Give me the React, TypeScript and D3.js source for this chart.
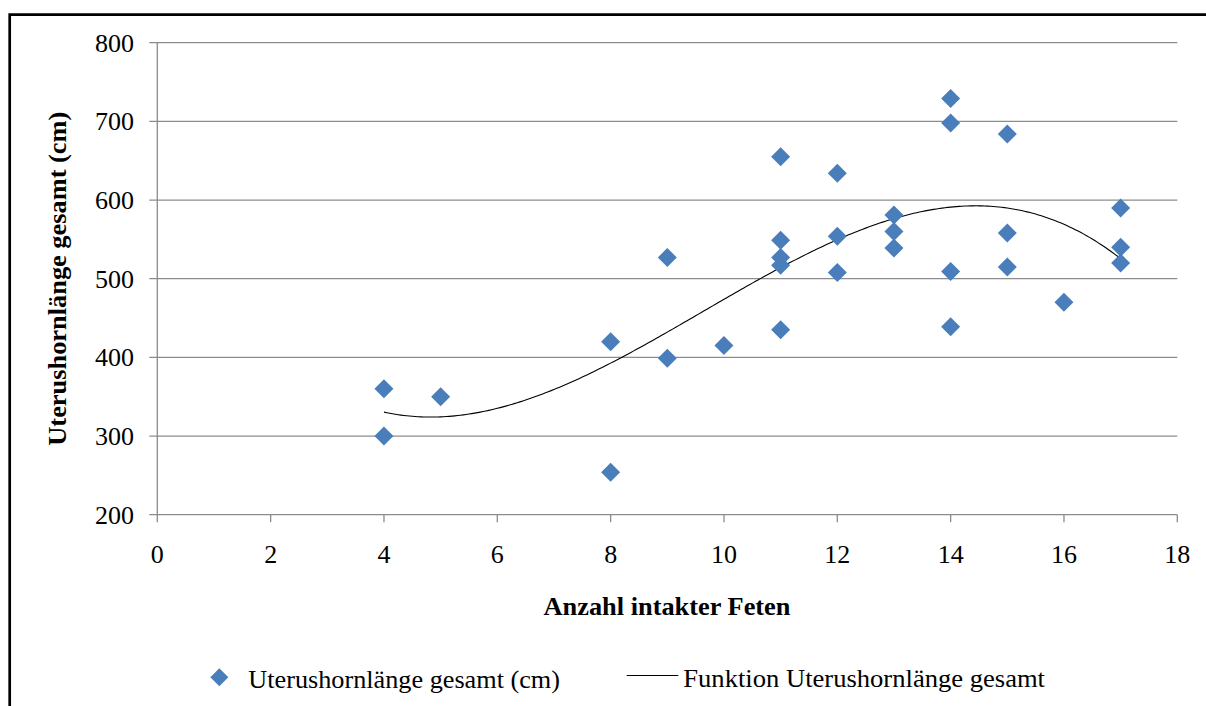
import React from "react";
import * as d3 from "d3";

// ---- data ----
const fetenCount = [4, 4, 5, 8, 8, 9, 9, 10, 11, 11, 11, 11, 11, 12, 12, 12, 13, 13, 13, 14, 14, 14, 14, 15, 15, 15, 16, 17, 17, 17];
const hornLength = [360, 300, 350, 420, 254, 527, 399, 415, 655, 549, 527, 517, 435, 634, 554, 508, 581, 560, 539, 729, 698, 509, 439, 684, 558, 515, 470, 590, 540, 520];
const xTicks = [0, 2, 4, 6, 8, 10, 12, 14, 16, 18];
const yTicks = [200, 300, 400, 500, 600, 700, 800];
const xTitle = "Anzahl intakter Feten";
const yTitle = "Uterushornlänge gesamt (cm)";
const legendScatter = "Uterushornlänge gesamt (cm)";
const legendTrend = "Funktion Uterushornlänge gesamt";

// cubic least-squares trend line (as Excel's polynomial trendline, order 3)
function polyFit(xs: number[], ys: number[], order: number, cx: number): number[] {
  const n = order + 1;
  const A: number[][] = Array.from({ length: n }, () => new Array(n + 1).fill(0));
  xs.forEach((xv, k) => {
    const t = xv - cx;
    for (let i = 0; i < n; i++) {
      for (let j = 0; j < n; j++) A[i][j] += Math.pow(t, i + j);
      A[i][n] += Math.pow(t, i) * ys[k];
    }
  });
  for (let i = 0; i < n; i++) {
    let p = i;
    for (let r = i + 1; r < n; r++) if (Math.abs(A[r][i]) > Math.abs(A[p][i])) p = r;
    [A[i], A[p]] = [A[p], A[i]];
    for (let r = 0; r < n; r++) {
      if (r === i) continue;
      const f = A[r][i] / A[i][i];
      for (let c = i; c <= n; c++) A[r][c] -= f * A[i][c];
    }
  }
  return A.map((row, i) => row[n] / row[i]);
}

const FONT = "'Liberation Serif', 'Times New Roman', serif";
const GRID = "#8c8c8c";
const BLUE = "#4A7EBB";

export default function App() {
  const x = d3.scaleLinear().domain([0, 18]).range([157.3, 1177.3]);
  const y = d3.scaleLinear().domain([200, 800]).range([514.7, 42.7]);

  const cx = 10;
  const coef = polyFit(fetenCount, hornLength, 3, cx);
  const f = (v: number) => coef.reduce((s, c, i) => s + c * Math.pow(v - cx, i), 0);
  const xMin = d3.min(fetenCount) as number;
  const xMax = d3.max(fetenCount) as number;
  const samples = d3.range(xMin, xMax + 0.0001, 0.05);
  const line = d3
    .line<number>()
    .x((d) => x(d))
    .y((d) => y(f(d)));

  const diamond = (cxp: number, cyp: number, r: number) =>
    `M${cxp},${cyp - r}L${cxp + r},${cyp}L${cxp},${cyp + r}L${cxp - r},${cyp}Z`;

  const yMid = (y(200) + y(800)) / 2;

  return (
    <svg
      width={1206}
      height={706}
      style={{ position: "absolute", left: 0, top: 0, display: "block", background: "#fff" }}
      fontFamily={FONT}
    >
      <rect x={0} y={0} width={1206} height={706} fill="#fff" />
      {/* outer chart border */}
      <path d="M9.7,720 L9.7,14.7 L1220,14.7" fill="none" stroke="#000" strokeWidth={2.7} />

      {/* gridlines + y ticks */}
      {yTicks.map((t) => (
        <line key={"g" + t} x1={149.3} x2={x(18)} y1={y(t)} y2={y(t)} stroke={GRID} strokeWidth={1.3} />
      ))}
      {/* y axis */}
      <line x1={x(0)} x2={x(0)} y1={y(800)} y2={y(200)} stroke={GRID} strokeWidth={1.3} />
      {/* x ticks */}
      {xTicks.map((t) => (
        <line key={"xt" + t} x1={x(t)} x2={x(t)} y1={y(200)} y2={y(200) + 7.5} stroke={GRID} strokeWidth={1.3} />
      ))}

      {/* y tick labels */}
      {yTicks.map((t) => (
        <text key={"yl" + t} x={134} y={y(t) + 9} textAnchor="end" fontSize={26} fill="#000">
          {t}
        </text>
      ))}
      {/* x tick labels */}
      {xTicks.map((t) => (
        <text key={"xl" + t} x={x(t)} y={563.3} textAnchor="middle" fontSize={26} fill="#000">
          {t}
        </text>
      ))}

      {/* axis titles */}
      <text x={667} y={615} textAnchor="middle" fontSize={26} fontWeight="bold" textLength={247} lengthAdjust="spacingAndGlyphs">
        {xTitle}
      </text>
      <text
        transform={`translate(66,${yMid}) rotate(-90)`}
        textAnchor="middle"
        fontSize={26}
        fontWeight="bold"
        textLength={334}
        lengthAdjust="spacingAndGlyphs"
      >
        {yTitle}
      </text>

      {/* trend line */}
      <path d={line(samples) || ""} fill="none" stroke="#000" strokeWidth={1.1} />

      {/* scatter points */}
      {fetenCount.map((fc, i) => (
        <path key={"p" + i} d={diamond(x(fc), y(hornLength[i]), 9.5)} fill={BLUE} />
      ))}

      {/* legend */}
      <path d={diamond(219.3, 677.3, 9)} fill={BLUE} />
      <text x={248.3} y={687.5} fontSize={26} textLength={311.7} lengthAdjust="spacingAndGlyphs">
        {legendScatter}
      </text>
      <line x1={626.7} x2={678.3} y1={675.5} y2={675.5} stroke="#000" strokeWidth={1.1} />
      <text x={683.3} y={687} fontSize={26} textLength={361.7} lengthAdjust="spacingAndGlyphs">
        {legendTrend}
      </text>
    </svg>
  );
}
